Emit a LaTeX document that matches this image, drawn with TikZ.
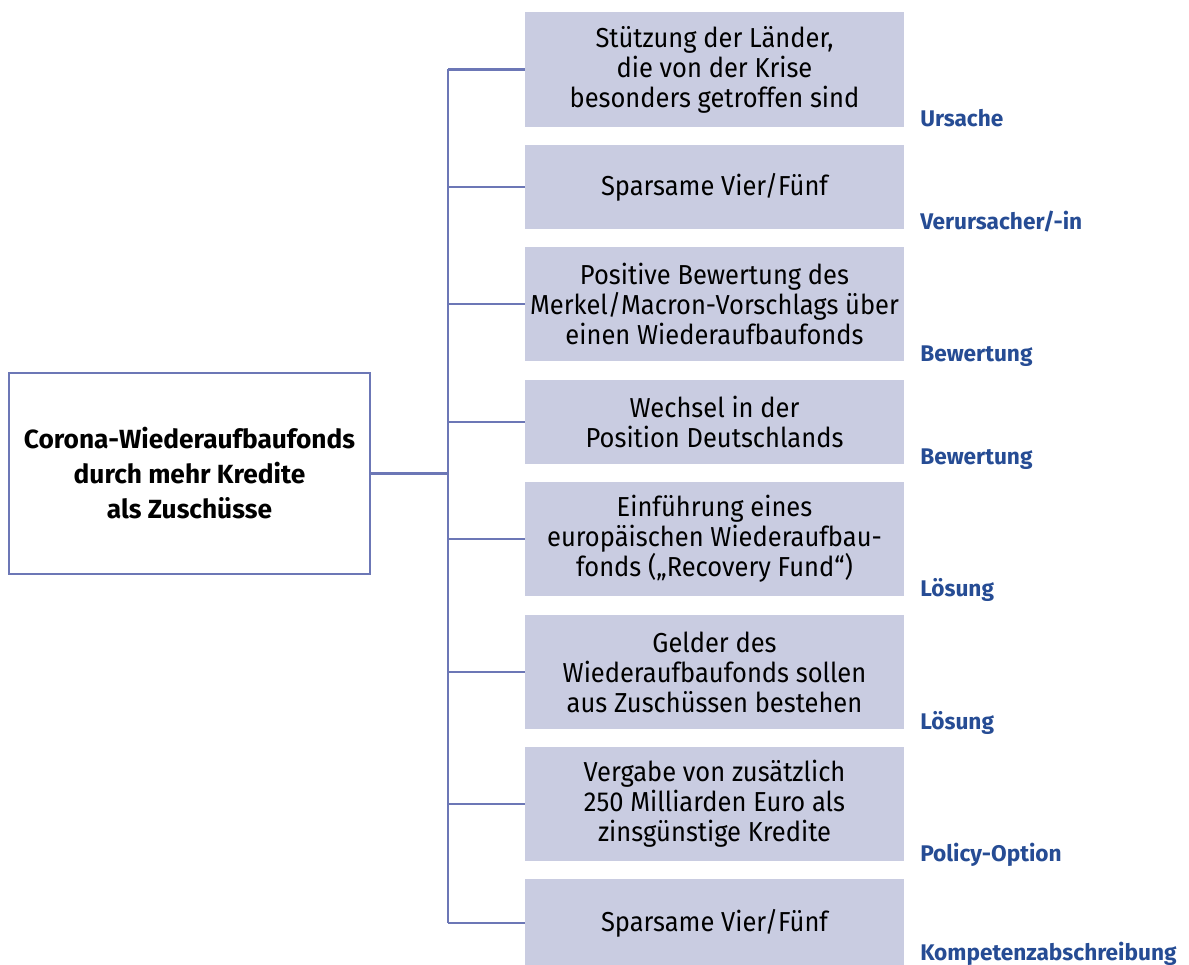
\documentclass[tikz,border=0pt]{standalone}
\usepackage{fontspec}
\setmainfont{Fira Sans}
\newfontfamily\narrowfont{Fira Sans}[FakeStretch=0.93]
\usetikzlibrary{positioning}
\definecolor{boxfill}{RGB}{201,204,225}
\definecolor{linecol}{RGB}{108,119,182}
\definecolor{lblblue}{RGB}{38,76,148}

\begin{document}
\begin{tikzpicture}[x=0.025cm,y=-0.025cm]
    \tikzstyle{conn}=[draw=linecol,line width=1.7pt]
    \tikzstyle{item}=[fill=boxfill,minimum width=9.475cm,inner sep=0pt,align=center,
        font=\narrowfont\fontsize{19.5}{21.3}\selectfont]
    \tikzstyle{tag}=[anchor=base west,inner sep=0pt,text=lblblue,
        font=\fontsize{16.1}{18}\selectfont\bfseries]
    \useasboundingbox (0,0) rectangle (1189,965);

    % Central topic on the left
    \node[draw=linecol,line width=1.7pt,minimum width=9.025cm,minimum height=5.025cm,
        align=center,font=\fontsize{18.7}{24.9}\selectfont\bfseries]
        (root) at (189.5,473.5) {Corona-Wiederaufbaufonds\\durch mehr Kredite\\als Zuschüsse};

    % Boxes with their tags
    \foreach \name/\top/\bot/\txt/\lbl in {
        1/12/127/{Stützung der Länder,\\die von der Krise\\besonders getroffen sind}/Ursache,
        2/145/229/{Sparsame Vier/Fünf}/{Verursacher/-in},
        3/247/361/{Positive Bewertung des\\Merkel/Macron-Vorschlags über\\einen Wiederaufbaufonds}/Bewertung,
        4/380/464/{Wechsel in der\\Position Deutschlands}/Bewertung,
        5/482/596/{Einführung eines\\europäischen Wiederaufbau-\\fonds („Recovery Fund“)}/Lösung,
        6/615/729/{Gelder des\\Wiederaufbaufonds sollen\\aus Zuschüssen bestehen}/Lösung,
        7/747/861/{Vergabe von zusätzlich\\250 Milliarden Euro als\\zinsgünstige Kredite}/Policy-Option,
        8/879/967/{Sparsame Vier/Fünf}/Kompetenzabschreibung}
    {
        \pgfmathsetmacro\h{(\bot-\top)*0.025}
        \pgfmathsetmacro\yc{(\top+\bot)/2}
        \pgfmathsetmacro\yb{min(\bot,960)}
        \node[item,minimum height=\h cm] (B-\name) at (714.5,\yc) {\txt};
        \node[tag] (T-\name) at (920,\yb) {\lbl};
        \coordinate (S-\name) at (448,\yc);
        \draw[conn] (S-\name) -- (B-\name.west);
    }

    % Spine and link to the topic
    \draw[conn] (S-1) -- (S-8);
    \draw[conn] (root.east) -- (root.east -| S-1);
\end{tikzpicture}
\end{document}
